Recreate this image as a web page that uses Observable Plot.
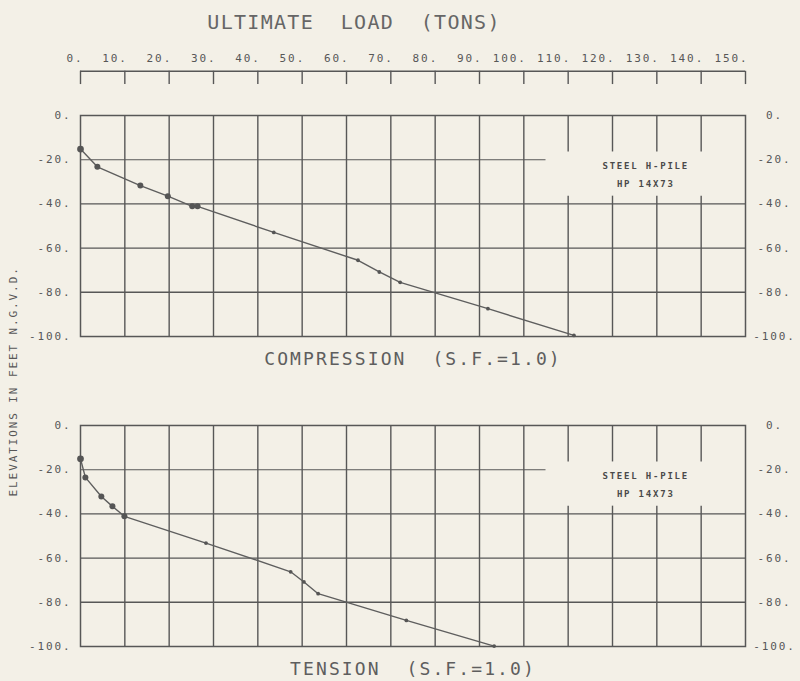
<!DOCTYPE html>
<html><head><meta charset="utf-8">
<script src="https://cdn.jsdelivr.net/npm/d3@7"></script>
<script src="https://cdn.jsdelivr.net/npm/@observablehq/plot@0.6"></script>
<style>
html,body{margin:0;padding:0;background:#f3f0e7;}
#chart{width:800px;height:681px;}
</style></head><body><div id="chart"></div>
<script>
// ---- data ----
const panels = ["COMPRESSION", "TENSION"];
const panelLabels = ["COMPRESSION  (S.F.=1.0)", "TENSION  (S.F.=1.0)"];
const title = "ULTIMATE  LOAD  (TONS)";
const yLabel = "ELEVATIONS IN FEET N.G.V.D.";
const legendLines = ["STEEL H-PILE", "HP 14X73"];

const compressionLoad = [0, 3.8, 13.5, 19.7, 25.2, 26.4, 43.6, 62.6, 67.4, 72.1, 91.9, 111.3];
const compressionElev = [-15.2, -23.2, -31.7, -36.5, -41.1, -41.1, -52.9, -65.5, -70.8, -75.5, -87.4, -99.5];
const tensionLoad = [0, 1.1, 4.7, 7.2, 9.9, 28.3, 47.4, 50.4, 53.6, 73.5, 93.3];
const tensionElev = [-15.1, -23.5, -32.1, -36.6, -41.1, -53.2, -66.2, -70.8, -76.1, -88.2, -99.8];

const xTicks = [0, 10, 20, 30, 40, 50, 60, 70, 80, 90, 100, 110, 120, 130, 140, 150];
const yTicks = [0, -20, -40, -60, -80, -100];
const xGridFull = [10, 20, 30, 40, 50, 60, 70, 80, 90, 100];
const xGridBroken = [110, 120, 130, 140];
const yGridFull = [-40, -60, -80];
const yGridShort = [-20];

// ---- layout helpers (data units) ----
const legendBox = {x1: 105, x2: 150, top: -16.5, bottom: -36.5};
const axisBar = 20, axisTickEnd = 14;

const ink = "#575757";
const rows = [];
compressionLoad.forEach((x, i) => rows.push({panel: panels[0], load: x, elev: compressionElev[i], first: i === 0}));
tensionLoad.forEach((x, i) => rows.push({panel: panels[1], load: x, elev: tensionElev[i], first: i === 0}));
const topRow = [{panel: panels[0]}];
const tickRows = xTicks.map(x => ({panel: panels[0], x}));
const labelRows = panels.map((p, i) => ({panel: p, label: panelLabels[i]}));
const fmt = d => `${d}.`;

const chart = Plot.plot({
  width: 800, height: 681,
  marginLeft: 80, marginRight: 55, marginTop: 115, marginBottom: 35,
  x: {domain: [0, 150], axis: null},
  y: {domain: [-100, 0], axis: null},
  fy: {domain: panels, axis: null, paddingInner: 0.287, paddingOuter: 0, round: false},
  style: {background: "#f3f0e7", color: ink, fontFamily: "'DejaVu Sans Mono', monospace", overflow: "visible"},
  marks: [
    // grid
    Plot.ruleX(xGridFull, {y1: -100, y2: 0, stroke: ink, strokeWidth: 1.4}),
    Plot.ruleX(xGridBroken, {y1: 0, y2: legendBox.top, stroke: ink, strokeWidth: 1.4}),
    Plot.ruleX(xGridBroken, {y1: legendBox.bottom, y2: -100, stroke: ink, strokeWidth: 1.4}),
    Plot.ruleY(yGridFull, {x1: 0, x2: 150, stroke: ink, strokeWidth: 1.4}),
    Plot.ruleY(yGridShort, {x1: 0, x2: legendBox.x1, stroke: ink, strokeWidth: 1.1}),
    Plot.frame({stroke: ink, strokeWidth: 1.5}),
    // left / right elevation labels
    Plot.text(yTicks, {x: 0, y: d => d, text: fmt, textAnchor: "end", dx: -9, fontSize: 11, fill: ink}),
    Plot.text(yTicks, {x: 150, y: d => d, text: fmt, textAnchor: "middle", dx: 29, fontSize: 11, fill: ink}),
    // legend
    Plot.text([legendLines.join("\n")], {x: (legendBox.x1 + legendBox.x2) / 2, y: (legendBox.top + legendBox.bottom) / 2, dy: -2, text: d => d, lineHeight: 2, fontSize: 9, fontWeight: "bold", fill: "#4a4a4a"}),
    // data
    Plot.line(rows, {x: "load", y: "elev", fy: "panel", stroke: "#5e5e5e", strokeWidth: 1.4}),
    Plot.dot(rows, {filter: d => d.elev > -45, x: "load", y: "elev", fy: "panel", r: d => d.first ? 3.3 : 2.6, fill: "#555"}),
    Plot.dot(rows, {filter: d => d.elev <= -45, x: "load", y: "elev", fy: "panel", r: 1.9, fill: "#555"}),
    // top load axis
    Plot.ruleY(topRow, {fy: "panel", y: axisBar, stroke: ink, strokeWidth: 1.5}),
    Plot.ruleX(tickRows, {fy: "panel", x: "x", y1: axisBar, y2: axisTickEnd, stroke: ink, strokeWidth: 1.4}),
    Plot.text(tickRows, {fy: "panel", x: "x", y: axisBar, text: d => fmt(d.x), dy: -13, dx: 3, textAnchor: "end", fontSize: 11, fill: ink}),
    Plot.text(topRow, {fy: "panel", x: 28.6, y: axisBar, dy: -49, textAnchor: "start", text: () => title, fontSize: 20, fill: "#666"}),
    // y label
    Plot.text(topRow, {fy: "panel", x: 0, y: -120.3, dx: -67, rotate: -90, text: () => yLabel, fontSize: 11, fill: ink}),
    // panel labels
    Plot.text(labelRows, {fy: "panel", frameAnchor: "bottom", lineAnchor: "middle", dy: 23, text: "label", fontSize: 18, fill: "#5e5e5e"})
  ]
});
document.getElementById("chart").appendChild(chart);
// plotter-style letter spacing
const spacing = {20: "1.3px", 18: "2.1px", 11: "1.9px", 9: "1.8px"};
chart.querySelectorAll("g[font-size]").forEach(g => {
  const fs = +g.getAttribute("font-size");
  if (spacing[fs]) g.setAttribute("letter-spacing", spacing[fs]);
});
</script>
</body></html>
